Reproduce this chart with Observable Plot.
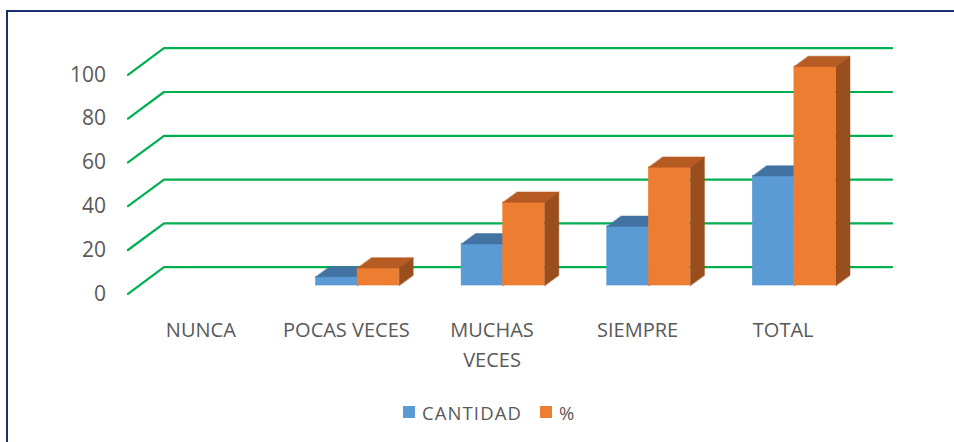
<!DOCTYPE html>
<html>
<head>
<meta charset="utf-8">
<script src="https://cdn.jsdelivr.net/npm/d3@7"></script>
<script src="https://cdn.jsdelivr.net/npm/@observablehq/plot@0.6"></script>
<style>
  html, body { margin: 0; padding: 0; background: #ffffff; }
  #wrap { position: relative; width: 954px; height: 442px; overflow: hidden; background: #fff; font-family: "Open Sans", sans-serif; }
  #frame { position: absolute; left: 6px; top: 10px; width: 1200px; height: 700px; border: 2px solid #1B2F6E; box-sizing: border-box; }
  #chart { position: absolute; left: 0; top: 0; }
  #legend { position: absolute; left: 403px; top: 401px; height: 22px; display: flex; align-items: center; color: #595959; font-size: 18.5px; letter-spacing: 1.1px; }
  #legend .sw { width: 12px; height: 12px; display: inline-block; }
</style>
</head>
<body>
<div id="wrap">
  <div id="frame"></div>
  <div id="chart"></div>
  <div id="legend"></div>
</div>
<script>
// ---- data ----
const categories = ["NUNCA", "POCAS VECES", "MUCHAS VECES", "SIEMPRE", "TOTAL"];
const categoryLabels = ["NUNCA", "POCAS VECES", "MUCHAS\nVECES", "SIEMPRE", "TOTAL"];
const cantidad = [0, 4, 19, 27, 50];
const porcentaje = [0, 8, 38, 54, 100];
const seriesNames = ["CANTIDAD", "%"];
const yTicks = [0, 20, 40, 60, 80, 100];

// ---- styling / 3D projection constants ----
const frontColors = ["#5B9BD5", "#ED7D31"];
const topColors = ["#4273A3", "#B65B22"];
const sideColors = ["#3D6A96", "#9A4E1D"];
const gridColor = "#00B050";
const DEPTH_X = 0.2473;   // full depth, in category-band units
const DEPTH_Y = 12.15;    // full depth, in value units
const Z_FRONT = 0.31, Z_BACK = 0.70;
const BAR_W = 0.2857;

const seriesValues = [cantidad, porcentaje];

// gridlines: front edge -> back wall -> across
const gridPts = [];
yTicks.forEach(t => {
  gridPts.push({t, x: 0, y: t});
  gridPts.push({t, x: DEPTH_X, y: t + DEPTH_Y});
  gridPts.push({t, x: categories.length + DEPTH_X, y: t + DEPTH_Y});
});

// bars
const fronts = [[], []], tops = [[], []], sides = [[], []];
categories.forEach((c, i) => {
  seriesValues.forEach((vals, s) => {
    const v = vals[i];
    if (!(v > 0)) return;
    const xa = i + 0.5 - BAR_W + s * BAR_W + Z_FRONT * DEPTH_X;
    const xb = xa + BAR_W;
    const y0 = Z_FRONT * DEPTH_Y;
    const y1 = v + y0;
    const dzx = (Z_BACK - Z_FRONT) * DEPTH_X;
    const yb0 = Z_BACK * DEPTH_Y;
    const yb1 = v + yb0;
    fronts[s].push({c, x1: xa, x2: xb, y1: y0, y2: y1});
    const id = c + s;
    [[xa, y1], [xb, y1], [xb + dzx, yb1], [xa + dzx, yb1]].forEach(([x, y]) => tops[s].push({id, x, y}));
    [[xb, y0], [xb, y1], [xb + dzx, yb1], [xb + dzx, yb0]].forEach(([x, y]) => sides[s].push({id, x, y}));
  });
});

const barMarks = [];
[0, 1].forEach(s => {
  barMarks.push(Plot.rect(fronts[s], {x1: "x1", x2: "x2", y1: "y1", y2: "y2", fill: frontColors[s], stroke: frontColors[s], strokeWidth: 0.5}));
  barMarks.push(Plot.line(tops[s], {x: "x", y: "y", z: "id", fill: topColors[s], stroke: topColors[s], strokeWidth: 0.5, curve: "linear-closed"}));
  barMarks.push(Plot.line(sides[s], {x: "x", y: "y", z: "id", fill: sideColors[s], stroke: sideColors[s], strokeWidth: 0.5, curve: "linear-closed"}));
});

const chart = Plot.plot({
  width: 954,
  height: 380,
  marginLeft: 127.5,
  marginRight: 98.5,
  marginTop: 74.3,
  marginBottom: 86.7,
  x: {domain: [0, categories.length], axis: null},
  y: {domain: [0, 100], axis: null},
  style: {fontFamily: "'Open Sans', sans-serif", background: "transparent", overflow: "visible", color: "#595959"},
  marks: [
    Plot.line(gridPts, {x: "x", y: "y", z: "t", stroke: gridColor, strokeWidth: 2.2}),
    ...barMarks,
    Plot.text(yTicks, {y: d => d, frameAnchor: "left", dx: -22, textAnchor: "end", text: d => String(d), fontSize: 21, fill: "#595959"}),
    Plot.text(categoryLabels, {x: (d, i) => i + 0.5, y: () => 0, text: d => d, lineAnchor: "top", dy: 22, lineHeight: 1.5, fontSize: 20, fill: "#595959"})
  ]
});
document.getElementById("chart").appendChild(chart);

// legend
const legend = document.getElementById("legend");
seriesNames.forEach((name, s) => {
  const sw = document.createElement("span");
  sw.className = "sw";
  sw.style.background = frontColors[s];
  sw.style.marginRight = "7px";
  if (s > 0) sw.style.marginLeft = "18px";
  legend.appendChild(sw);
  const t = document.createElement("span");
  t.textContent = name;
  legend.appendChild(t);
});
</script>
</body>
</html>
